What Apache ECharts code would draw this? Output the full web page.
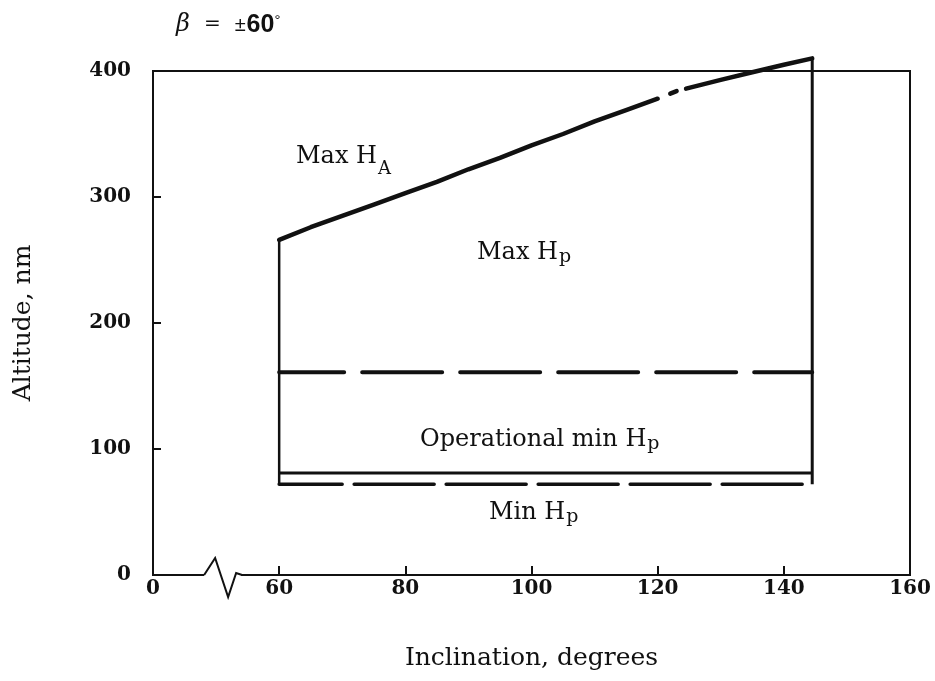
<!DOCTYPE html>
<html>
<head>
<meta charset="utf-8">
<title>Altitude vs inclination</title>
<script src="https://cdn.jsdelivr.net/npm/echarts@6/dist/echarts.min.js"></script>
<style>
  html, body { margin: 0; padding: 0; background: #fff; }
  #chart { width: 935px; height: 681px; }
</style>
</head>
<body>
<div id="chart"></div>
<script>
// Axis ticks: the inclination axis is broken, so its first tick (40) is labelled "0".
const xTickValues = [40, 60, 80, 100, 120, 140, 160];
const xTickLabels = ['0', '60', '80', '100', '120', '140', '160'];
const yTickValues = [0, 100, 200, 300, 400];

// Max apogee altitude (nm) against inclination (deg), drawn in three pieces:
// solid run, a short dot, and a second solid run.
const maxHaInclA = [60, 65, 70, 75, 80, 85, 90, 95, 100, 105, 110, 115, 120];
const maxHaAltA  = [266, 276, 285, 294, 303, 312, 322, 331, 341, 350, 360, 369, 378];
const maxHaInclB = [122, 123];
const maxHaAltB  = [382, 384];
const maxHaInclC = [124.5, 130, 135, 140, 144.5];
const maxHaAltC  = [386, 393, 399, 405, 410];

// Perigee limits (nm), constant over the inclination range.
const inclinationRange = [60, 144.5];
const maxHpAlt = [161, 161];
const opMinHpAlt = [81, 81];
const minHpAlt = [72, 72];

const ink = '#111';
const serif = 'DejaVu Serif';

function pairs(xs, ys) { return xs.map((x, i) => [x, ys[i]]); }

const chart = echarts.init(document.getElementById('chart'), null, { renderer: 'canvas' });

const lineBase = { type: 'line', showSymbol: false, symbol: 'none', silent: true, clip: false, z: 3 };

const option = {
  animation: false,
  backgroundColor: '#fff',
  title: {
    left: 171, top: 8,
    text: '{b|β}{e|=}{pm|±}{n|60}{d|°}',
    textStyle: {
      fontWeight: 'normal',
      rich: {
        b: { fontFamily: serif, fontStyle: 'italic', fontWeight: 'normal', fontSize: 24, color: ink, verticalAlign: 'top', lineHeight: 30 },
        e: { fontFamily: serif, fontWeight: 'normal', fontSize: 20, color: ink, verticalAlign: 'top', lineHeight: 30, padding: [2, 14, 0, 14] },
        pm: { fontFamily: 'Liberation Sans', fontWeight: 'normal', fontSize: 20, color: ink, verticalAlign: 'top', lineHeight: 30, padding: [2, 1, 0, 0] },
        n: { fontFamily: 'Liberation Sans', fontWeight: 'bold', fontSize: 25, color: ink, verticalAlign: 'top', lineHeight: 30 },
        d: { fontFamily: 'Liberation Sans', fontWeight: 'normal', fontSize: 15, color: ink, verticalAlign: 'top', lineHeight: 15 }
      }
    }
  },
  grid: {
    left: 153, right: 25, top: 71, bottom: 106,
    show: true, borderColor: ink, borderWidth: 2, backgroundColor: 'transparent'
  },
  xAxis: {
    type: 'value', min: 40, max: 160, interval: 20,
    axisLine: { show: true, lineStyle: { color: ink, width: 2 } },
    axisTick: { show: true, inside: true, length: 9, lineStyle: { color: ink, width: 2 } },
    splitLine: { show: false },
    axisLabel: {
      color: ink, fontFamily: serif, fontWeight: 'bold', fontSize: 20, margin: 4,
      formatter: v => { const i = xTickValues.indexOf(v); return i >= 0 ? xTickLabels[i] : ''; }
    },
    name: 'Inclination, degrees', nameLocation: 'middle', nameGap: 71,
    nameTextStyle: { fontFamily: serif, fontSize: 25, color: ink }
  },
  yAxis: {
    type: 'value', min: 0, max: 400, interval: 100,
    axisLine: { show: true, lineStyle: { color: ink, width: 2 } },
    axisTick: { show: true, inside: true, length: 8, lineStyle: { color: ink, width: 2 } },
    splitLine: { show: false },
    axisLabel: {
      color: ink, fontFamily: serif, fontWeight: 'bold', fontSize: 20, margin: 22,
      formatter: v => (yTickValues.indexOf(v) >= 0 ? String(v) : '')
    },
    name: 'Altitude, nm', nameLocation: 'middle', nameGap: 117, nameRotate: 90,
    nameTextStyle: { fontFamily: serif, fontSize: 25, color: ink }
  },
  series: [
    // Max H_A
    Object.assign({}, lineBase, { name: 'Max HA 1', data: pairs(maxHaInclA, maxHaAltA),
      lineStyle: { color: ink, width: 4.5, cap: 'round' } }),
    Object.assign({}, lineBase, { name: 'Max HA 2', data: pairs(maxHaInclB, maxHaAltB),
      lineStyle: { color: ink, width: 4.5, cap: 'round' } }),
    Object.assign({}, lineBase, { name: 'Max HA 3', data: pairs(maxHaInclC, maxHaAltC),
      lineStyle: { color: ink, width: 4.5, cap: 'round' } }),
    // Max H_p (dashed)
    Object.assign({}, lineBase, { name: 'Max Hp', data: pairs(inclinationRange, maxHpAlt),
      lineStyle: { color: ink, width: 4, type: [80, 18], dashOffset: 15, cap: 'round' } }),
    // Operational min H_p (solid)
    Object.assign({}, lineBase, { name: 'Operational min Hp', data: pairs(inclinationRange, opMinHpAlt),
      lineStyle: { color: ink, width: 3 } }),
    // Min H_p (dashed)
    Object.assign({}, lineBase, { name: 'Min Hp', data: pairs(inclinationRange, minHpAlt),
      lineStyle: { color: ink, width: 3.5, type: [80, 12], dashOffset: 17, cap: 'round' } }),
    // Envelope sides: from min H_p up to the max H_A curve
    Object.assign({}, lineBase, { name: 'Left side',
      data: [[inclinationRange[0], minHpAlt[0]], [maxHaInclA[0], maxHaAltA[0]]],
      lineStyle: { color: ink, width: 2.5 } }),
    Object.assign({}, lineBase, { name: 'Right side',
      data: [[inclinationRange[1], minHpAlt[1]], [maxHaInclC[maxHaInclC.length - 1], maxHaAltC[maxHaAltC.length - 1]]],
      lineStyle: { color: ink, width: 3 } })
  ]
};

chart.setOption(option);

// Annotations and the axis-break mark
const labelRich = {
  m: { fontFamily: serif, fontSize: 24, fill: ink, verticalAlign: 'top', lineHeight: 28 },
  sA: { fontFamily: serif, fontSize: 18, fill: ink, verticalAlign: 'top', lineHeight: 28, padding: [15, 0, 0, 1] },
  sp: { fontFamily: serif, fontSize: 19, fill: ink, verticalAlign: 'top', lineHeight: 28, padding: [7, 0, 0, 1] }
};
function note(text, x, y) {
  return { type: 'text', left: x, top: y, z: 10, silent: true,
    style: { text: text, rich: labelRich, fill: ink } };
}

const breakAt = chart.convertToPixel({ gridIndex: 0 }, [50.8, 0]);
const bx = breakAt[0], by = breakAt[1];

chart.setOption({
  graphic: [
    note('{m|Max H}{sA|A}', 296, 145),
    note('{m|Max H}{sp|p}', 477, 241),
    note('{m|Operational min H}{sp|p}', 420, 428),
    note('{m|Min H}{sp|p}', 489, 501),
    { type: 'line', z: 20, silent: true,
      shape: { x1: bx - 17, y1: by, x2: bx + 20, y2: by },
      style: { stroke: '#fff', lineWidth: 5 } },
    { type: 'polyline', z: 21, silent: true,
      shape: { points: [[bx - 17, by], [bx - 6, by - 17], [bx + 7, by + 22], [bx + 15, by - 2], [bx + 21, by]] },
      style: { stroke: ink, lineWidth: 2, fill: null, lineJoin: 'miter' } }
  ]
});
</script>
</body>
</html>
